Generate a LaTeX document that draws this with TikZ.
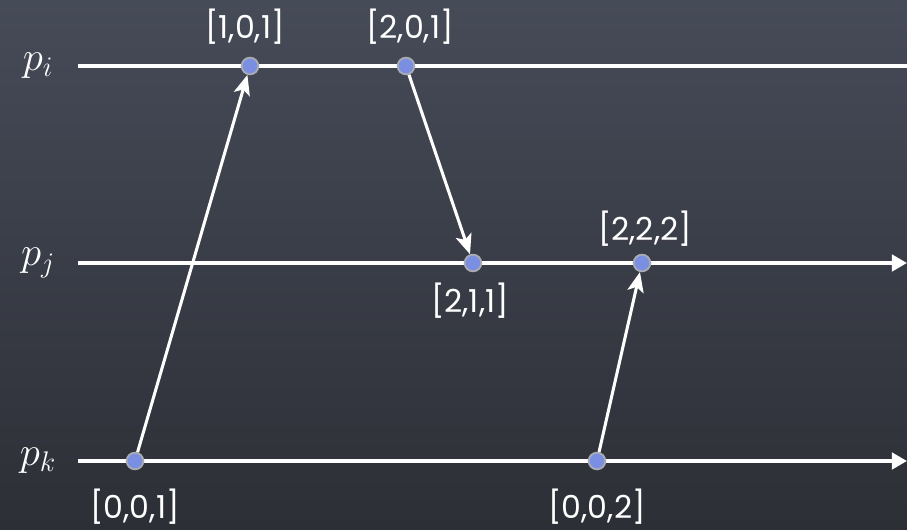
\documentclass[tikz,border=0pt]{standalone}
\usepackage{fontspec}
\setmainfont{Poppins}
\usetikzlibrary{positioning, arrows.meta}

\definecolor{slatetop}{RGB}{70,75,88}
\definecolor{slatebot}{RGB}{45,47,54}
\definecolor{evblue}{RGB}{122,143,226}
\definecolor{evrim}{RGB}{168,171,180}

\begin{document}
\begin{tikzpicture}[x=0.03cm,y=-0.03cm,
    proc/.style={white, line width=3.5pt},
    msg/.style={white, line width=2.6pt, -{Stealth[length=17pt,width=14pt,inset=4pt]}},
    ev/.style={circle, fill=evblue, draw=evrim, line width=1.6pt, minimum size=0.5cm, inner sep=0pt},
    vc/.style={white, inner sep=0pt, font=\fontsize{27}{30}\selectfont}]
    \shade[top color=slatetop, bottom color=slatebot] (0,0) rectangle (907,529);
    \useasboundingbox (0,0) rectangle (907,529);
    % processes
    \foreach \n/\y in {i/66,j/263,k/461} {
        \node[white, font=\fontsize{24}{28}\selectfont, scale=1.4] (p\n) at (38,\y) {$p_\n$};
        \coordinate (p\n s) at (78,\y);
        \coordinate (p\n e) at (907,\y);
    }
    \draw[proc] (pis) -- (pie);
    \draw[proc, -{Triangle[length=13pt,width=14pt]}] (pjs) -- (pje);
    \draw[proc, -{Triangle[length=13pt,width=14pt]}] (pks) -- (pke);
    % events
    \node[ev] (v101) at (250,66) {};
    \node[ev] (v201) at (406,66) {};
    \node[ev] (v211) at (473,263) {};
    \node[ev] (v222) at (642,263) {};
    \node[ev] (v001) at (135,461) {};
    \node[ev] (v002) at (597,461) {};
    % messages
    \draw[msg] (v001) -- (v101);
    \draw[msg] (v201) -- (v211);
    \draw[msg] (v002) -- (v222);
    % vector clocks
    \node[vc, above=0.36cm of v101, xshift=-0.15cm] (t101) {[1,0,1]};
    \node[vc, above=0.36cm of v201, xshift=0.12cm] (t201) {[2,0,1]};
    \node[vc, below=0.3cm of v211, xshift=-0.09cm] (t211) {[2,1,1]};
    \node[vc, above=0.22cm of v222, xshift=0.09cm] (t222) {[2,2,2]};
    \node[vc, below=0.54cm of v001] (t001) {[0,0,1]};
    \node[vc, below=0.54cm of v002] (t002) {[0,0,2]};
\end{tikzpicture}
\end{document}
